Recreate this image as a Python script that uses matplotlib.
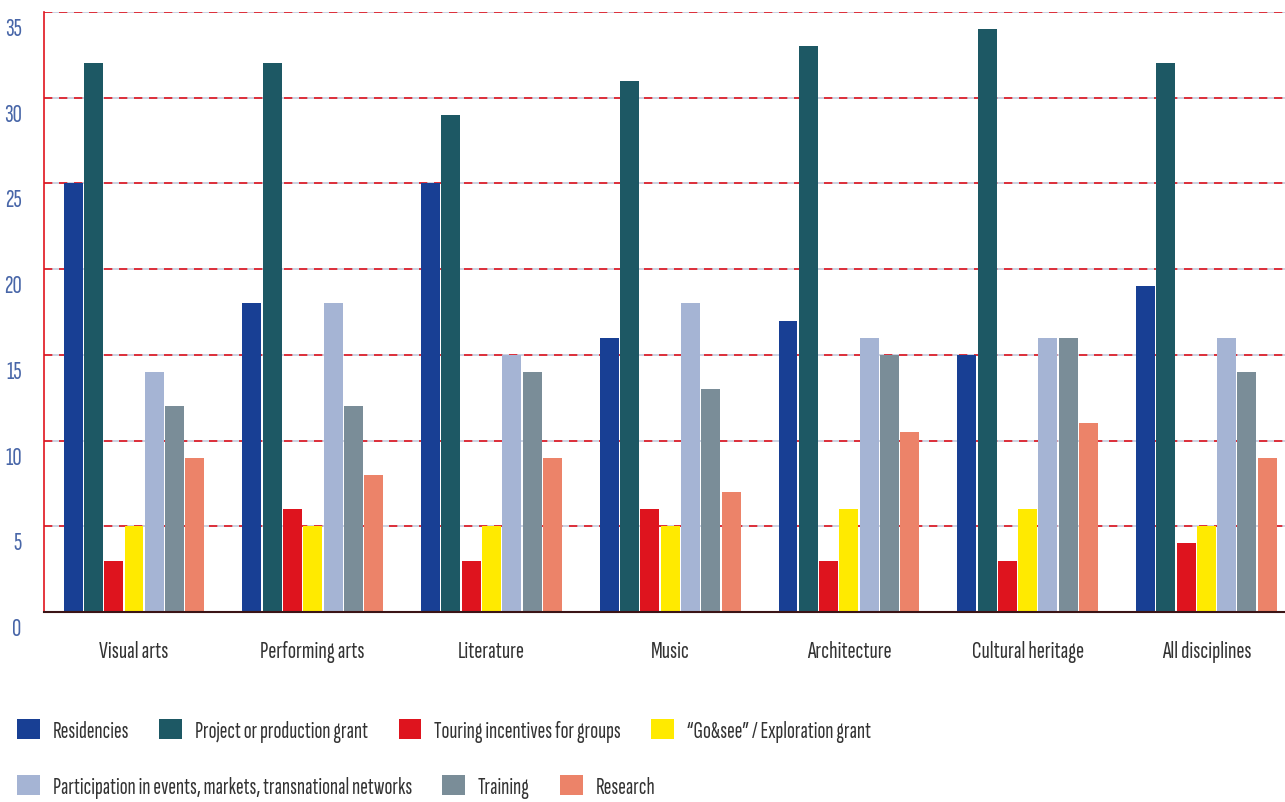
#!/usr/bin/env python3
"""Grouped bar chart of mobility funding types by discipline"""
import matplotlib
matplotlib.use('Agg')
import matplotlib.pyplot as plt
import matplotlib.transforms as mtransforms
import numpy as np

disciplines = ['Visual arts', 'Performing arts', 'Literature', 'Music',
               'Architecture', 'Cultural heritage', 'All disciplines']
series = ['Residencies', 'Project or production grant',
          'Touring incentives for groups', '\u201cGo&see\u201d / Exploration grant',
          'Participation in events, markets, transnational networks',
          'Training', 'Research']
residencies = [25, 18, 25, 16, 17, 15, 19]
project = [32, 32, 29, 31, 33, 34, 32]
touring = [3, 6, 3, 6, 3, 3, 4]
gosee = [5, 5, 5, 5, 6, 6, 5]
participation = [14, 18, 15, 18, 16, 16, 16]
training = [12, 12, 14, 13, 15, 16, 14]
research = [9, 8, 9, 7, 10.5, 11, 9]
colors = ['#183f94', '#1d5864', '#de141e', '#ffea00',
          '#a5b4d4', '#7a8d98', '#ec8369']

values = [residencies, project, touring, gosee, participation, training, research]

plt.rcParams['font.family'] = ['Sofia Sans Extra Condensed', 'DejaVu Sans']
plt.rcParams['font.weight'] = 300

fig = plt.figure(figsize=(12.85, 8.03), dpi=100)
ax = fig.add_axes([0.0342, 0.2366, 0.9658, 0.7472])

x = np.arange(len(disciplines))
pitch = 0.1136
width = 0.106
for i, (name, vals) in enumerate(zip(series, values)):
    ax.bar(x + (i - 3) * pitch, vals, width, color=colors[i], label=name,
           zorder=3)

# grid: light solid line with red dashes over it
for yv in range(5, 36, 5):
    ax.axhline(yv, color='#c3cbdc', lw=1.2, zorder=1)
    ax.axhline(yv, color='#e0141e', lw=1.2, ls=(0, (5, 4)), zorder=2)

ax.set_xlim(-0.504, 6.44)
ax.set_ylim(0, 35)
ax.set_yticks(range(0, 36, 5))
ax.set_xticks(x)
ax.set_xticklabels(disciplines)
ax.tick_params(axis='y', length=0, pad=16, labelsize=18.5, labelcolor='#4866a8')
ax.tick_params(axis='x', length=0, pad=20, labelsize=17.5, labelcolor='#333333')
offset = mtransforms.ScaledTranslation(0, -14 / 100, fig.dpi_scale_trans)
for lbl in ax.get_yticklabels():
    lbl.set_transform(lbl.get_transform() + offset)

for side in ['top', 'right']:
    ax.spines[side].set_visible(False)
ax.spines['left'].set_color('#e0141e')
ax.spines['left'].set_linewidth(1.2)
ax.spines['bottom'].set_color('#3a1416')
ax.spines['bottom'].set_linewidth(1.5)
ax.spines['bottom'].set_zorder(4)

handles, labels = ax.get_legend_handles_labels()
leg_kw = dict(frameon=False, loc='center left', fontsize=16.8,
              handlelength=0.98, handleheight=0.98, handletextpad=0.55,
              columnspacing=1.3, borderpad=0, borderaxespad=0,
              labelcolor='#333333')
leg1 = fig.legend(handles[:4], labels[:4], ncol=4,
                  bbox_to_anchor=(0.0132, 0.089), **leg_kw)
leg2 = fig.legend(handles[4:], labels[4:], ncol=3,
                  bbox_to_anchor=(0.0132, 0.0193), **leg_kw)

plt.savefig('out.png', dpi=100)
